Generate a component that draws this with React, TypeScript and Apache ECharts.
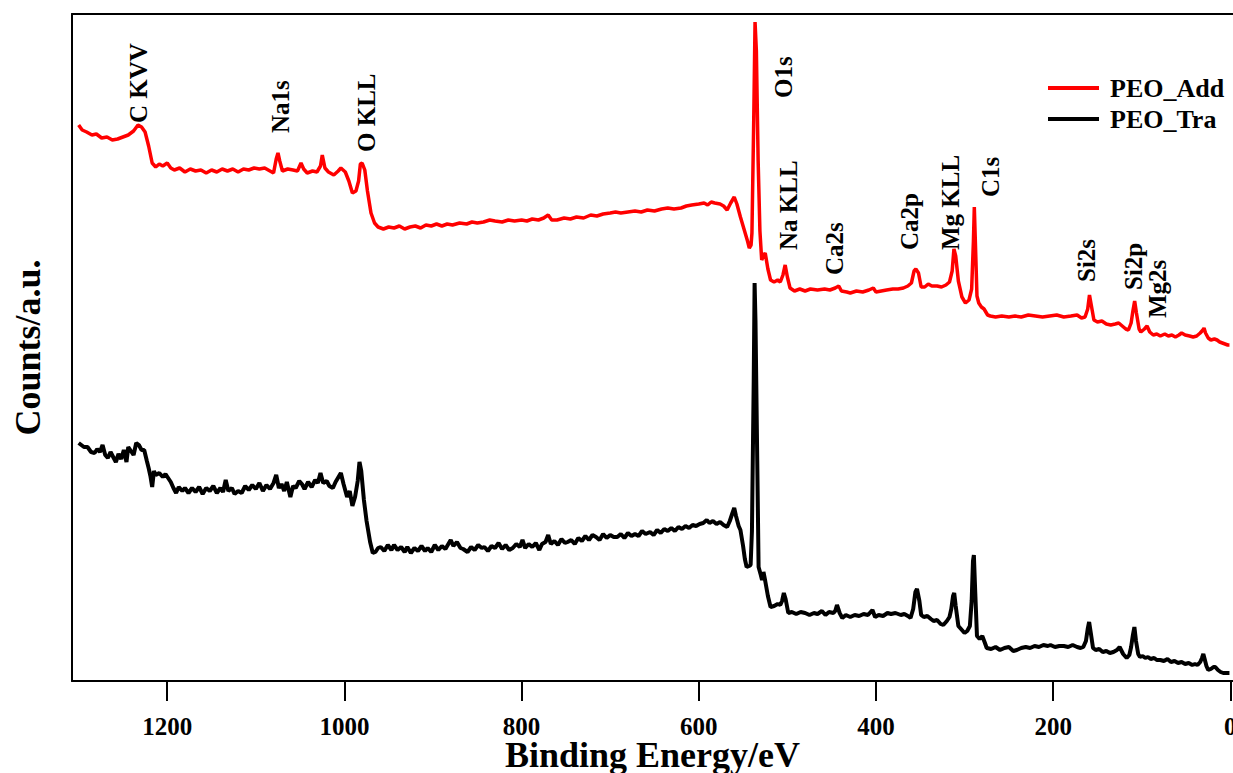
import React, { useEffect, useRef } from "react";
import * as echarts from "echarts";

// [binding energy (eV), counts (a.u.)]
const peoAdd: number[][] = [
  [1300, 556], [1296, 551], [1291, 549], [1285, 546], [1280, 547], [1274, 543], [1268, 544], [1262, 541],
  [1256, 542], [1250, 544], [1244, 546], [1238, 550], [1233, 556], [1229, 554], [1225, 549], [1221, 535],
  [1217, 518], [1213, 514], [1209, 517], [1205, 515], [1200, 518], [1196, 513], [1192, 511], [1186, 513],
  [1180, 509], [1174, 512], [1168, 510], [1162, 511], [1156, 508], [1150, 511], [1144, 509], [1138, 512],
  [1132, 510], [1126, 512], [1120, 509], [1114, 512], [1108, 511], [1102, 513], [1096, 512], [1090, 513],
  [1084, 510], [1080, 508], [1077, 522], [1075, 528], [1073, 520], [1070, 510], [1064, 512], [1058, 511],
  [1053, 510], [1049, 518], [1046, 512], [1042, 508], [1036, 510], [1031, 509], [1027, 515], [1025, 526],
  [1022, 513], [1018, 509], [1012, 506], [1007, 510], [1004, 513], [999, 509], [995, 500], [991, 488],
  [987, 490], [984, 500], [982, 517], [980, 518], [977, 511], [974, 490], [970, 468], [966, 458],
  [962, 454], [956, 452], [950, 454], [944, 453], [938, 455], [932, 452], [926, 454], [920, 455],
  [914, 453], [908, 456], [902, 455], [896, 457], [890, 455], [884, 457], [878, 456], [870, 458],
  [862, 457], [856, 459], [850, 458], [843, 459], [836, 461], [830, 460], [822, 459], [815, 461],
  [808, 460], [800, 461], [794, 460], [788, 462], [781, 461], [775, 463], [770, 466], [766, 461],
  [760, 461], [752, 463], [745, 462], [738, 464], [730, 463], [722, 466], [715, 465], [708, 467],
  [700, 468], [694, 469], [688, 468], [680, 469], [672, 470], [665, 469], [658, 471], [650, 470],
  [642, 472], [635, 473], [628, 472], [620, 473], [614, 475], [608, 476], [600, 477], [594, 478],
  [590, 476], [586, 479], [582, 478], [576, 477], [572, 475], [568, 471], [564, 478], [560, 484],
  [557, 477], [553, 464], [549, 452], [545, 440], [543, 433], [541, 436], [540, 448], [538, 560],
  [536.5, 659], [535, 630], [533, 520], [531, 450], [529, 421], [527, 425], [525, 428], [522, 412],
  [519, 401], [515, 399], [511, 401], [508, 399], [505, 406], [502.5, 416], [500, 404], [497, 393],
  [492, 390], [486, 392], [480, 390], [474, 392], [466, 391], [458, 392], [452, 391], [446, 393],
  [442, 395], [439, 390], [433, 389], [429, 388], [422, 390], [415, 389], [408, 391], [403, 393],
  [400, 389], [394, 390], [388, 391], [381, 392], [375, 392], [369, 393], [364, 395], [360, 398],
  [357, 410], [355, 412], [352, 408], [349, 394], [345, 394], [341, 397], [337, 395], [331, 395],
  [326, 394], [321, 396], [317, 399], [314, 410], [312, 432], [310, 425], [307, 400], [303, 384],
  [299, 378], [295, 381], [292, 392], [290, 440], [289, 474], [287.5, 430], [286, 385], [284, 378],
  [281, 374], [278, 372], [274, 366], [271, 365], [265, 364], [258, 365], [250, 364], [243, 365],
  [236, 364], [228, 366], [220, 365], [212, 364], [204, 365], [196, 366], [188, 364], [180, 365],
  [173, 366], [168, 363], [164, 364], [161, 372], [159, 386], [157, 376], [154, 361], [150, 359],
  [145, 360], [140, 357], [135, 356], [130, 357], [126, 358], [122, 355], [118, 352], [115, 351],
  [112, 358], [110, 370], [108, 380], [106, 368], [103, 352], [101, 349], [97, 352], [94, 355],
  [91, 349], [87, 346], [83, 347], [79, 345], [74, 347], [70, 345], [66, 346], [62, 344],
  [58, 346], [55, 348], [51, 346], [46, 345], [42, 344], [38, 345], [34, 348], [31, 351],
  [29.7, 353], [28, 348], [25, 343], [22, 341], [18, 342], [15, 341], [12, 339], [9, 338],
  [6, 337], [3, 336], [1, 336],
];

const peoTra: number[][] = [
  [1300, 238], [1297, 236], [1294, 234], [1290, 234], [1286, 229], [1282, 228], [1279, 232], [1276, 229],
  [1273, 236], [1270, 226], [1267, 223], [1264, 229], [1261, 224], [1258, 219], [1255, 227], [1252, 222],
  [1249, 231], [1246, 219], [1244, 234], [1241, 230], [1238, 226], [1235, 238], [1232, 236], [1229, 231],
  [1226, 231], [1223, 220], [1221, 213], [1219, 205], [1217, 194], [1215, 210], [1213, 206], [1209, 208],
  [1205, 204], [1202, 207], [1199, 203], [1196, 199], [1193, 193], [1190, 188], [1187, 194], [1183, 190],
  [1180, 193], [1176, 188], [1172, 193], [1168, 189], [1164, 194], [1160, 187], [1156, 193], [1152, 190],
  [1148, 195], [1144, 188], [1140, 193], [1137, 189], [1134, 201], [1131, 190], [1127, 193], [1124, 187],
  [1120, 190], [1116, 188], [1112, 195], [1108, 191], [1104, 196], [1100, 192], [1096, 198], [1092, 190],
  [1088, 196], [1084, 192], [1080, 198], [1077, 206], [1074, 193], [1071, 197], [1068, 190], [1065, 199],
  [1061, 184], [1058, 195], [1055, 193], [1051, 200], [1048, 197], [1045, 192], [1041, 199], [1037, 194],
  [1033, 201], [1030, 198], [1027, 208], [1024, 198], [1020, 200], [1017, 195], [1013, 193], [1010, 199],
  [1006, 205], [1004, 208], [1001, 197], [997, 184], [994, 190], [991, 175], [988, 184], [985, 200],
  [983, 219], [981, 210], [978, 181], [975, 160], [971, 139], [968, 128], [965, 129], [962, 133],
  [959, 134], [955, 130], [951, 136], [947, 131], [944, 136], [940, 131], [936, 134], [932, 129],
  [929, 134], [925, 128], [921, 133], [917, 130], [913, 135], [909, 130], [906, 133], [902, 129],
  [898, 136], [894, 131], [890, 135], [886, 132], [882, 138], [880, 141], [877, 135], [873, 139],
  [869, 133], [866, 132], [861, 129], [857, 134], [853, 131], [849, 136], [845, 133], [842, 134],
  [838, 130], [834, 135], [830, 133], [826, 138], [822, 132], [818, 136], [814, 131], [810, 133],
  [806, 137], [802, 134], [799, 141], [796, 133], [792, 137], [788, 134], [784, 138], [780, 131],
  [777, 137], [773, 139], [770, 146], [767, 137], [763, 140], [759, 136], [755, 142], [751, 138],
  [748, 139], [744, 141], [740, 137], [736, 143], [732, 140], [728, 145], [724, 141], [720, 146],
  [716, 144], [712, 141], [708, 147], [704, 143], [700, 146], [696, 144], [692, 144], [688, 147],
  [684, 143], [680, 148], [676, 145], [672, 147], [668, 145], [664, 150], [660, 147], [655, 149],
  [651, 146], [647, 151], [643, 148], [639, 152], [635, 150], [631, 153], [627, 150], [623, 154],
  [619, 152], [615, 155], [611, 153], [607, 156], [603, 155], [599, 157], [595, 158], [591, 161],
  [588, 158], [584, 160], [580, 157], [576, 159], [572, 156], [568, 154], [565, 160], [562, 168],
  [560, 173], [558, 165], [555, 155], [553, 151], [550, 135], [548, 122], [546, 114], [543, 115],
  [541.5, 116], [540, 150], [538, 300], [537, 398], [536, 360], [534, 220], [532.5, 114], [530, 106],
  [528.6, 101], [527, 109], [525, 100], [522, 85], [519, 74], [515, 75], [511, 77], [508, 76],
  [506, 80], [504, 88], [502, 82], [499, 68], [495, 69], [490, 67], [485, 69], [480, 68],
  [475, 66], [470, 68], [466, 67], [461, 70], [457, 66], [453, 69], [448, 68], [446, 70],
  [444, 76], [441, 68], [438, 63], [434, 66], [429, 64], [424, 66], [419, 65], [414, 67],
  [409, 66], [404, 71], [401, 64], [397, 66], [392, 65], [387, 68], [383, 67], [378, 68],
  [372, 66], [368, 67], [364, 65], [361, 63], [358, 72], [355.5, 89], [353.7, 92], [351, 80],
  [349, 66], [346, 64], [342, 65], [338, 62], [335, 60], [331, 61], [327, 57], [324, 56],
  [320, 60], [317, 64], [315, 72], [313, 85], [311.7, 88], [310, 75], [307, 55], [304, 52],
  [300, 48], [297, 50], [294, 55], [292, 80], [290.5, 120], [289.5, 126], [288, 90], [286, 45],
  [283, 42], [280, 45], [277, 38], [275, 33], [270, 32], [265, 34], [260, 31], [255, 33],
  [250, 34], [245, 30], [241, 31], [236, 33], [231, 34], [226, 33], [221, 35], [216, 34],
  [211, 36], [206, 35], [203, 36], [198, 34], [193, 35], [188, 35], [183, 34], [178, 36],
  [173, 34], [169, 33], [166, 34], [163, 40], [161, 52], [159.4, 59], [157.5, 48], [155, 33],
  [152, 31], [148, 32], [144, 29], [140, 30], [136, 28], [132, 29], [128, 31], [125, 34],
  [121, 27], [117, 23], [114, 26], [112, 34], [110, 46], [108.3, 54], [106.5, 40], [104, 27],
  [102, 24], [99, 25], [96, 23], [93, 24], [90, 22], [86, 23], [83, 21], [79, 21],
  [75, 20], [71, 22], [67, 19], [63, 20], [59, 18], [55, 19], [51, 17], [47, 18],
  [43, 16], [40, 17], [37, 16], [34, 19], [32, 23], [30.5, 27], [29, 22], [27, 15],
  [25, 11], [22, 12], [19, 14], [17, 14], [14, 11], [11, 9], [8, 8], [6, 8],
  [3, 8], [1, 8],
];

// Peak annotations: label, energy (eV), counts at the start of the text
const peakLabels = ["C KVV", "Na1s", "O KLL", "O1s", "Na KLL", "Ca2s", "Ca2p", "Mg KLL", "C1s", "Si2s", "Si2p", "Mg2s"];
const peakEnergy = [1233, 1072, 975, 504.6, 499, 447, 362.4, 316.2, 271, 162.6, 109.6, 82.6];
const peakCount = [558, 548, 529, 583, 431, 406, 431, 431, 484, 399, 391, 363];

const xTicks = [0, 200, 400, 600, 800, 1000, 1200];
const seriesNames = ["PEO_Add", "PEO_Tra"];

const FONT = '"Liberation Serif", "Times New Roman", serif';
const X_MIN = -3;
const X_MAX = 1307.5;

export default function App() {
  const ref = useRef<HTMLDivElement>(null);
  useEffect(() => {
    if (!ref.current) return;
    const chart = echarts.init(ref.current, undefined, { renderer: "svg" });
    const annData = peakLabels.map((name, i) => ({ name, value: [peakEnergy[i], peakCount[i]] }));
    chart.setOption({
      animation: false,
      backgroundColor: "#fff",
      grid: {
        left: 72, right: 0, top: 14, bottom: 92,
        containLabel: false,
        outerBoundsMode: "none",
        show: false,
      },
      legend: {
        data: seriesNames,
        orient: "vertical",
        left: 1043,
        top: 69,
        icon: "rect",
        itemWidth: 51,
        itemHeight: 4,
        itemGap: 3,
        textStyle: {
          fontFamily: FONT, fontWeight: "bold", fontSize: 26, lineHeight: 28,
          color: "#000", padding: [0, 0, 0, 6],
        },
      },
      xAxis: [
        {
          type: "value",
          inverse: true,
          min: X_MIN,
          max: X_MAX,
          name: "Binding Energy/eV",
          nameLocation: "middle",
          nameGap: 56,
          nameMoveOverlap: false,
          nameTextStyle: { fontFamily: FONT, fontWeight: "bold", fontSize: 36, color: "#000" },
          axisLine: { show: true, onZero: false, lineStyle: { color: "#000", width: 2 } },
          axisTick: { show: true, inside: false, length: 20, lineStyle: { color: "#000", width: 2 }, customValues: xTicks },
          axisLabel: {
            show: true,
            customValues: xTicks,
            formatter: (v: number) => String(v),
            margin: 33,
            fontFamily: FONT,
            fontWeight: "bold",
            fontSize: 25,
            color: "#000",
          },
          splitLine: { show: false },
        },
        {
          type: "value",
          position: "top",
          inverse: true,
          min: X_MIN,
          max: X_MAX,
          axisLine: { show: true, onZero: false, lineStyle: { color: "#000", width: 2 } },
          axisTick: { show: false },
          axisLabel: { show: false },
          splitLine: { show: false },
        },
      ],
      yAxis: {
        type: "value",
        min: 0,
        max: 667,
        name: "Counts/a.u.",
        nameLocation: "middle",
        nameGap: 26,
        nameMoveOverlap: false,
        nameTextStyle: { fontFamily: FONT, fontWeight: "bold", fontSize: 36, color: "#000" },
        axisLine: { show: true, onZero: false, lineStyle: { color: "#000", width: 2 } },
        axisTick: { show: false },
        axisLabel: { show: false },
        splitLine: { show: false },
      },
      series: [
        {
          name: seriesNames[0],
          type: "line",
          data: peoAdd,
          symbol: "none",
          lineStyle: { color: "#ff0000", width: 3.5 },
          itemStyle: { color: "#ff0000" },
          z: 3,
        },
        {
          name: seriesNames[1],
          type: "line",
          data: peoTra,
          symbol: "none",
          lineStyle: { color: "#000000", width: 4 },
          itemStyle: { color: "#000000" },
          z: 2,
        },
        {
          name: "peaks",
          type: "scatter",
          data: annData,
          symbolSize: 0,
          silent: true,
          z: 4,
          itemStyle: { color: "#000", opacity: 1 },
          label: {
            show: true,
            formatter: "{b}",
            position: [0, 0],
            rotate: 90,
            align: "left",
            verticalAlign: "middle",
            fontFamily: FONT,
            fontWeight: "bold",
            fontSize: 25,
            color: "#000",
            opacity: 1,
          },
        },
      ],
    });
    return () => chart.dispose();
  }, []);
  return <div ref={ref} style={{ position: "absolute", left: 0, top: 0, width: 1233, height: 773 }} />;
}
